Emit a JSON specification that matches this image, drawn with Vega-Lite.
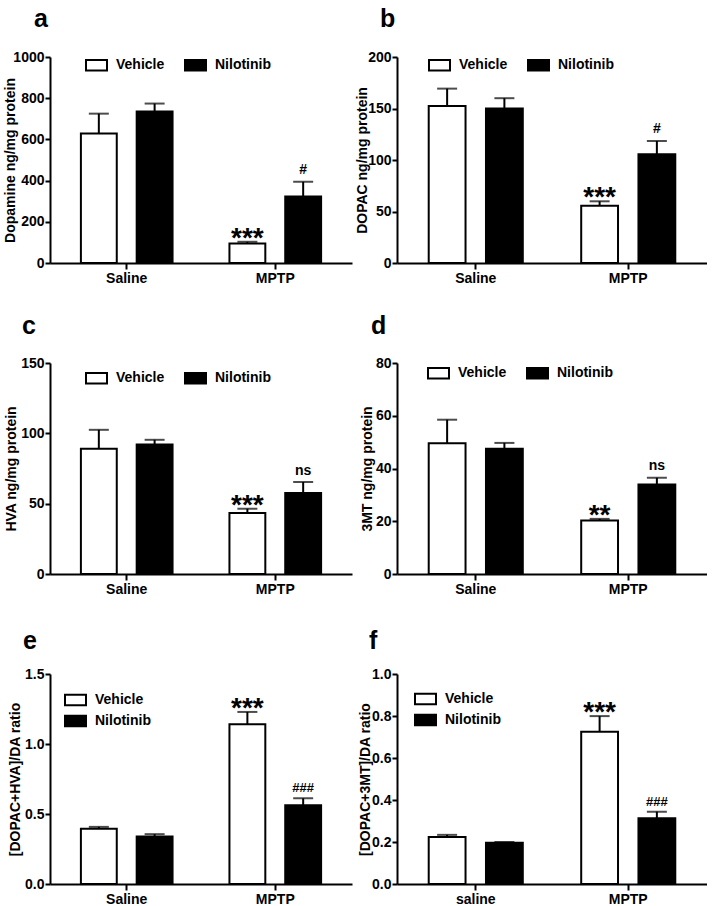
{
  "$schema": "https://vega.github.io/schema/vega-lite/v6.json",
  "padding": {"left": 3, "top": 6, "right": 0, "bottom": 0},
  "bounds": "flush",
  "columns": 2,
  "spacing": {"row": 100, "column": 45},
  "resolve": {"scale": {"fill": "independent", "xOffset": "independent"}, "legend": {"fill": "independent"}},
  "config": {
    "view": {"stroke": null},
    "font": "Liberation Sans",
    "axis": {"domainColor": "black", "domainWidth": 2, "tickColor": "black", "tickWidth": 2, "tickSize": 5, "grid": false,
      "labelFont": "Liberation Sans", "labelFontSize": 14, "labelFontWeight": "bold", "labelColor": "black",
      "titleFont": "Liberation Sans", "titleFontSize": 14, "titleFontWeight": "bold", "titleColor": "black"},
    "axisX": {"labelAngle": 0, "tickSize": 6, "labelPadding": 2, "title": null},
    "axisY": {"labelPadding": 1},
    "legend": {"labelFont": "Liberation Sans", "labelFontSize": 14, "labelFontWeight": "bold", "labelColor": "black",
      "symbolType": "M-1,-0.5H1V0.5H-1Z", "symbolSize": 441, "symbolStrokeColor": "black", "symbolStrokeWidth": 2,
      "labelOffset": 8, "columnPadding": 16, "rowPadding": 0, "padding": 0},
    "title": {"anchor": "start", "frame": "group", "fontSize": 25, "fontWeight": "bold", "font": "Liberation Sans", "color": "black", "baseline": "alphabetic"}
  },
  "data": {"values": [
    {"panel": "a", "group": "Saline", "treatment": "Vehicle", "value": 629, "upper": 725, "stars": "", "note": ""},
    {"panel": "a", "group": "Saline", "treatment": "Nilotinib", "value": 736, "upper": 774, "stars": "", "note": ""},
    {"panel": "a", "group": "MPTP", "treatment": "Vehicle", "value": 95, "upper": 103, "stars": "***", "note": ""},
    {"panel": "a", "group": "MPTP", "treatment": "Nilotinib", "value": 323, "upper": 394, "stars": "", "note": "#"},
    {"panel": "b", "group": "Saline", "treatment": "Vehicle", "value": 152.5, "upper": 169.3, "stars": "", "note": ""},
    {"panel": "b", "group": "Saline", "treatment": "Nilotinib", "value": 150, "upper": 160, "stars": "", "note": ""},
    {"panel": "b", "group": "MPTP", "treatment": "Vehicle", "value": 55.7, "upper": 59.9, "stars": "***", "note": ""},
    {"panel": "b", "group": "MPTP", "treatment": "Nilotinib", "value": 105.6, "upper": 118.5, "stars": "", "note": "#"},
    {"panel": "c", "group": "Saline", "treatment": "Vehicle", "value": 89, "upper": 102.5, "stars": "", "note": ""},
    {"panel": "c", "group": "Saline", "treatment": "Nilotinib", "value": 92.1, "upper": 95.4, "stars": "", "note": ""},
    {"panel": "c", "group": "MPTP", "treatment": "Vehicle", "value": 43.4, "upper": 46.4, "stars": "***", "note": ""},
    {"panel": "c", "group": "MPTP", "treatment": "Nilotinib", "value": 57.6, "upper": 65.4, "stars": "", "note": "ns"},
    {"panel": "d", "group": "Saline", "treatment": "Vehicle", "value": 49.6, "upper": 58.5, "stars": "", "note": ""},
    {"panel": "d", "group": "Saline", "treatment": "Nilotinib", "value": 47.5, "upper": 49.7, "stars": "", "note": ""},
    {"panel": "d", "group": "MPTP", "treatment": "Vehicle", "value": 20.3, "upper": 20.9, "stars": "**", "note": ""},
    {"panel": "d", "group": "MPTP", "treatment": "Nilotinib", "value": 33.9, "upper": 36.5, "stars": "", "note": "ns"},
    {"panel": "e", "group": "Saline", "treatment": "Vehicle", "value": 0.394, "upper": 0.408, "stars": "", "note": ""},
    {"panel": "e", "group": "Saline", "treatment": "Nilotinib", "value": 0.339, "upper": 0.356, "stars": "", "note": ""},
    {"panel": "e", "group": "MPTP", "treatment": "Vehicle", "value": 1.141, "upper": 1.229, "stars": "***", "note": ""},
    {"panel": "e", "group": "MPTP", "treatment": "Nilotinib", "value": 0.5625, "upper": 0.612, "stars": "", "note": "###"},
    {"panel": "f", "group": "saline", "treatment": "Vehicle", "value": 0.224, "upper": 0.234, "stars": "", "note": ""},
    {"panel": "f", "group": "saline", "treatment": "Nilotinib", "value": 0.196, "upper": 0.2, "stars": "", "note": ""},
    {"panel": "f", "group": "MPTP", "treatment": "Vehicle", "value": 0.725, "upper": 0.7995, "stars": "***", "note": ""},
    {"panel": "f", "group": "MPTP", "treatment": "Nilotinib", "value": 0.313, "upper": 0.3445, "stars": "", "note": "###"}
  ]},
  "concat": [
    {
      "width": 302, "height": 206,
      "title": {"text": "a", "dx": -16, "offset": 18.5},
      "transform": [{"filter": "datum.panel === 'a'"}],
      "encoding": {
        "x": {"field": "group", "type": "nominal", "sort": ["Saline", "saline", "MPTP"], "scale": {"paddingInner": 0.383, "paddingOuter": 0.208}},
        "xOffset": {"field": "treatment", "type": "nominal", "sort": ["Vehicle", "Nilotinib"], "scale": {"paddingInner": 0.357, "paddingOuter": 0}},
        "y": {"field": "value", "type": "quantitative", "scale": {"domain": [0, 1000], "nice": false}, "axis": {"title": "Dopamine ng/mg protein", "values": [0, 200, 400, 600, 800, 1000], "format": "d", "titlePadding": -5}}
      },
      "layer": [
        {"mark": {"type": "bar", "stroke": "black", "strokeWidth": 2}, "encoding": {"fill": {"field": "treatment", "type": "nominal", "scale": {"domain": ["Vehicle", "Nilotinib"], "range": ["white", "black"]}, "legend": {"title": null, "orient": "none", "legendX": 35, "legendY": -3.5, "direction": "horizontal"}}}},
        {"mark": {"type": "rule", "color": "black", "strokeWidth": 2}, "encoding": {"y2": {"field": "upper"}}},
        {"mark": {"type": "tick", "color": "black", "thickness": 2, "size": 20}, "encoding": {"y": {"field": "upper", "type": "quantitative"}}},
        {"mark": {"type": "text", "fontSize": 28, "fontWeight": "bold", "baseline": "alphabetic", "dy": 5, "color": "black"}, "encoding": {"y": {"field": "upper", "type": "quantitative"}, "text": {"field": "stars"}}},
        {"mark": {"type": "text", "fontSize": 14, "fontWeight": "bold", "baseline": "alphabetic", "dy": -7.5, "color": "black"}, "encoding": {"y": {"field": "upper", "type": "quantitative"}, "text": {"field": "note"}}}
      ]
    },
    {
      "width": 310, "height": 206,
      "title": {"text": "b", "dx": -17, "offset": 18.5},
      "transform": [{"filter": "datum.panel === 'b'"}],
      "encoding": {
        "x": {"field": "group", "type": "nominal", "sort": ["Saline", "saline", "MPTP"], "scale": {"paddingInner": 0.383, "paddingOuter": 0.208}},
        "xOffset": {"field": "treatment", "type": "nominal", "sort": ["Vehicle", "Nilotinib"], "scale": {"paddingInner": 0.357, "paddingOuter": 0}},
        "y": {"field": "value", "type": "quantitative", "scale": {"domain": [0, 200], "nice": false}, "axis": {"title": "DOPAC ng/mg protein", "values": [0, 50, 100, 150, 200], "titlePadding": -2}}
      },
      "layer": [
        {"mark": {"type": "bar", "stroke": "black", "strokeWidth": 2}, "encoding": {"fill": {"field": "treatment", "type": "nominal", "scale": {"domain": ["Vehicle", "Nilotinib"], "range": ["white", "black"]}, "legend": {"title": null, "orient": "none", "legendX": 31, "legendY": -3.5, "direction": "horizontal"}}}},
        {"mark": {"type": "rule", "color": "black", "strokeWidth": 2}, "encoding": {"y2": {"field": "upper"}}},
        {"mark": {"type": "tick", "color": "black", "thickness": 2, "size": 20}, "encoding": {"y": {"field": "upper", "type": "quantitative"}}},
        {"mark": {"type": "text", "fontSize": 28, "fontWeight": "bold", "baseline": "alphabetic", "dy": 5, "color": "black"}, "encoding": {"y": {"field": "upper", "type": "quantitative"}, "text": {"field": "stars"}}},
        {"mark": {"type": "text", "fontSize": 14, "fontWeight": "bold", "baseline": "alphabetic", "dy": -7.5, "color": "black"}, "encoding": {"y": {"field": "upper", "type": "quantitative"}, "text": {"field": "note"}}}
      ]
    },
    {
      "width": 302, "height": 211,
      "title": {"text": "c", "dx": -28, "offset": 17},
      "transform": [{"filter": "datum.panel === 'c'"}],
      "encoding": {
        "x": {"field": "group", "type": "nominal", "sort": ["Saline", "saline", "MPTP"], "scale": {"paddingInner": 0.383, "paddingOuter": 0.208}},
        "xOffset": {"field": "treatment", "type": "nominal", "sort": ["Vehicle", "Nilotinib"], "scale": {"paddingInner": 0.357, "paddingOuter": 0}},
        "y": {"field": "value", "type": "quantitative", "scale": {"domain": [0, 150], "nice": false}, "axis": {"title": "HVA ng/mg protein", "values": [0, 50, 100, 150], "titlePadding": 2}}
      },
      "layer": [
        {"mark": {"type": "bar", "stroke": "black", "strokeWidth": 2}, "encoding": {"fill": {"field": "treatment", "type": "nominal", "scale": {"domain": ["Vehicle", "Nilotinib"], "range": ["white", "black"]}, "legend": {"title": null, "orient": "none", "legendX": 35, "legendY": 3.5, "direction": "horizontal"}}}},
        {"mark": {"type": "rule", "color": "black", "strokeWidth": 2}, "encoding": {"y2": {"field": "upper"}}},
        {"mark": {"type": "tick", "color": "black", "thickness": 2, "size": 20}, "encoding": {"y": {"field": "upper", "type": "quantitative"}}},
        {"mark": {"type": "text", "fontSize": 28, "fontWeight": "bold", "baseline": "alphabetic", "dy": 5, "color": "black"}, "encoding": {"y": {"field": "upper", "type": "quantitative"}, "text": {"field": "stars"}}},
        {"mark": {"type": "text", "fontSize": 14, "fontWeight": "bold", "baseline": "alphabetic", "dy": -7.5, "color": "black"}, "encoding": {"y": {"field": "upper", "type": "quantitative"}, "text": {"field": "note"}}}
      ]
    },
    {
      "width": 310, "height": 211,
      "title": {"text": "d", "dx": -26, "offset": 17},
      "transform": [{"filter": "datum.panel === 'd'"}],
      "encoding": {
        "x": {"field": "group", "type": "nominal", "sort": ["Saline", "saline", "MPTP"], "scale": {"paddingInner": 0.383, "paddingOuter": 0.208}},
        "xOffset": {"field": "treatment", "type": "nominal", "sort": ["Vehicle", "Nilotinib"], "scale": {"paddingInner": 0.357, "paddingOuter": 0}},
        "y": {"field": "value", "type": "quantitative", "scale": {"domain": [0, 80], "nice": false}, "axis": {"title": "3MT ng/mg protein", "values": [0, 20, 40, 60, 80], "titlePadding": 1}}
      },
      "layer": [
        {"mark": {"type": "bar", "stroke": "black", "strokeWidth": 2}, "encoding": {"fill": {"field": "treatment", "type": "nominal", "scale": {"domain": ["Vehicle", "Nilotinib"], "range": ["white", "black"]}, "legend": {"title": null, "orient": "none", "legendX": 30, "legendY": -1.5, "direction": "horizontal"}}}},
        {"mark": {"type": "rule", "color": "black", "strokeWidth": 2}, "encoding": {"y2": {"field": "upper"}}},
        {"mark": {"type": "tick", "color": "black", "thickness": 2, "size": 20}, "encoding": {"y": {"field": "upper", "type": "quantitative"}}},
        {"mark": {"type": "text", "fontSize": 28, "fontWeight": "bold", "baseline": "alphabetic", "dy": 5, "color": "black"}, "encoding": {"y": {"field": "upper", "type": "quantitative"}, "text": {"field": "stars"}}},
        {"mark": {"type": "text", "fontSize": 14, "fontWeight": "bold", "baseline": "alphabetic", "dy": -7.5, "color": "black"}, "encoding": {"y": {"field": "upper", "type": "quantitative"}, "text": {"field": "note"}}}
      ]
    },
    {
      "width": 302, "height": 210,
      "title": {"text": "e", "dx": -27, "offset": 13.5},
      "transform": [{"filter": "datum.panel === 'e'"}],
      "encoding": {
        "x": {"field": "group", "type": "nominal", "sort": ["Saline", "saline", "MPTP"], "scale": {"paddingInner": 0.383, "paddingOuter": 0.208}},
        "xOffset": {"field": "treatment", "type": "nominal", "sort": ["Vehicle", "Nilotinib"], "scale": {"paddingInner": 0.357, "paddingOuter": 0}},
        "y": {"field": "value", "type": "quantitative", "scale": {"domain": [0, 1.5], "nice": false}, "axis": {"title": "[DOPAC+HVA]/DA ratio", "values": [0, 0.5, 1, 1.5], "format": ".1f", "titlePadding": 2}}
      },
      "layer": [
        {"mark": {"type": "bar", "stroke": "black", "strokeWidth": 2}, "encoding": {"fill": {"field": "treatment", "type": "nominal", "scale": {"domain": ["Vehicle", "Nilotinib"], "range": ["white", "black"]}, "legend": {"title": null, "orient": "none", "legendX": 14, "legendY": 14.5, "direction": "vertical"}}}},
        {"mark": {"type": "rule", "color": "black", "strokeWidth": 2}, "encoding": {"y2": {"field": "upper"}}},
        {"mark": {"type": "tick", "color": "black", "thickness": 2, "size": 20}, "encoding": {"y": {"field": "upper", "type": "quantitative"}}},
        {"mark": {"type": "text", "fontSize": 28, "fontWeight": "bold", "baseline": "alphabetic", "dy": 5, "color": "black"}, "encoding": {"y": {"field": "upper", "type": "quantitative"}, "text": {"field": "stars"}}},
        {"mark": {"type": "text", "fontSize": 13, "fontWeight": "bold", "baseline": "alphabetic", "dy": -6, "color": "black"}, "encoding": {"y": {"field": "upper", "type": "quantitative"}, "text": {"field": "note"}}}
      ]
    },
    {
      "width": 310, "height": 210,
      "title": {"text": "f", "dx": -28, "offset": 13.5},
      "transform": [{"filter": "datum.panel === 'f'"}],
      "encoding": {
        "x": {"field": "group", "type": "nominal", "sort": ["Saline", "saline", "MPTP"], "scale": {"paddingInner": 0.383, "paddingOuter": 0.208}},
        "xOffset": {"field": "treatment", "type": "nominal", "sort": ["Vehicle", "Nilotinib"], "scale": {"paddingInner": 0.357, "paddingOuter": 0}},
        "y": {"field": "value", "type": "quantitative", "scale": {"domain": [0, 1], "nice": false}, "axis": {"title": "[DOPAC+3MT]/DA ratio", "values": [0, 0.2, 0.4, 0.6, 0.8, 1], "format": ".1f", "titlePadding": -1}}
      },
      "layer": [
        {"mark": {"type": "bar", "stroke": "black", "strokeWidth": 2}, "encoding": {"fill": {"field": "treatment", "type": "nominal", "scale": {"domain": ["Vehicle", "Nilotinib"], "range": ["white", "black"]}, "legend": {"title": null, "orient": "none", "legendX": 17, "legendY": 13.5, "direction": "vertical"}}}},
        {"mark": {"type": "rule", "color": "black", "strokeWidth": 2}, "encoding": {"y2": {"field": "upper"}}},
        {"mark": {"type": "tick", "color": "black", "thickness": 2, "size": 20}, "encoding": {"y": {"field": "upper", "type": "quantitative"}}},
        {"mark": {"type": "text", "fontSize": 28, "fontWeight": "bold", "baseline": "alphabetic", "dy": 5, "color": "black"}, "encoding": {"y": {"field": "upper", "type": "quantitative"}, "text": {"field": "stars"}}},
        {"mark": {"type": "text", "fontSize": 13, "fontWeight": "bold", "baseline": "alphabetic", "dy": -6, "color": "black"}, "encoding": {"y": {"field": "upper", "type": "quantitative"}, "text": {"field": "note"}}}
      ]
    }
  ]
}
